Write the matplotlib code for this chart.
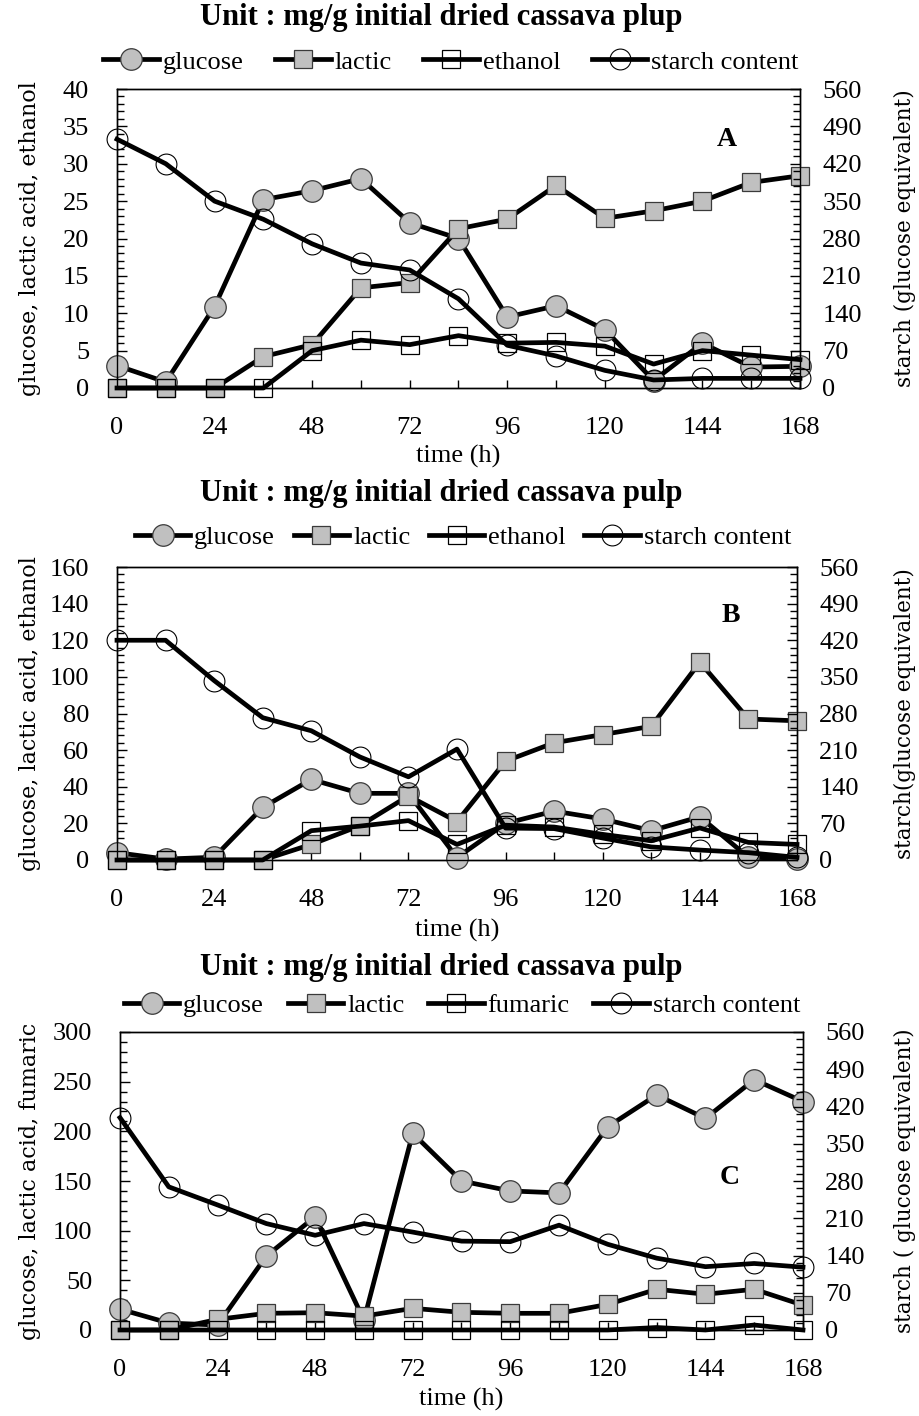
import matplotlib
matplotlib.use("Agg")
import matplotlib.pyplot as plt
from matplotlib.ticker import MultipleLocator
from matplotlib.lines import Line2D

plt.rcParams['font.family'] = ['Liberation Serif', 'DejaVu Serif']

time_h = [0, 12, 24, 36, 48, 60, 72, 84, 96, 108, 120, 132, 144, 156, 168]

# Panel A
glucose_A = [3.0, 0.8, 10.9, 25.2, 26.4, 28.0, 22.1, 20.0, 9.5, 11.0, 7.8, 1.0, 6.0, 2.8, 2.9]
lactic_A = [0, 0, 0, 4.2, 5.8, 13.4, 14.1, 21.3, 22.6, 27.1, 22.7, 23.7, 25.0, 27.5, 28.4]
ethanol_A = [0, 0, 0, 0, 5.0, 6.4, 5.8, 7.0, 6.0, 6.1, 5.6, 3.2, 5.0, 4.4, 3.8]
starch_A = [466, 420, 350, 316, 270, 234, 221, 167, 80, 60, 33, 15, 18, 18, 18]

# Panel B
glucose_B = [4.0, 0.5, 1.5, 28.7, 44.0, 36.4, 36.4, 1.3, 20.0, 26.7, 22.4, 16.0, 23.6, 1.5, 0.8]
lactic_B = [0, 0, 0, 0, 8.5, 18.7, 35.0, 21.0, 54.0, 64.0, 68.5, 73.0, 108.0, 77.0, 76.0]
ethanol_B = [0, 0, 0, 0, 16.0, 18.5, 21.5, 8.5, 19.0, 18.0, 14.0, 10.5, 17.5, 9.6, 8.5]
starch_B = [420, 420, 343, 272, 247, 197, 159, 212, 61, 60, 42, 25, 19, 14, 5]

# Panel C
glucose_C = [21.0, 7.0, 5.0, 74.5, 114.0, 10.0, 198.0, 150.0, 140.0, 138.0, 204.7, 236.6, 213.0, 252.0, 230.0]
lactic_C = [0, 0, 10.7, 16.8, 17.4, 14.0, 21.8, 17.8, 16.8, 16.8, 25.8, 41.0, 36.0, 41.0, 25.0]
fumaric_C = [0, 0, 0, 0, 0, 0, 0, 0, 0, 0, 0, 2.5, 0, 5.0, 0]
starch_C = [399, 269, 235, 200, 178, 200, 184, 167, 166, 197, 161, 135, 119, 125, 118]

W, H = 920, 1416
fig = plt.figure(figsize=(W / 100, H / 100), dpi=100)

TICK_FS = 19
LW = 3.4
GRAY = '#c0c0c0'
EDGE = '#3a3a3a'


def fx(px):
    return px / W


def fy(py):
    return 1 - py / H


def panel(box, y3, ymax, ystep, yminor, third_name, lab_left, lab_right,
          title, title_y, letter, letter_xy, leg_xy, colspace, xlabel_y):
    left, top, right, bottom = box
    ax = fig.add_axes([fx(left), fy(bottom), fx(right - left), (bottom - top) / H])
    ax2 = ax.twinx()
    glu, lac, thr, sta = y3
    common = dict(color='black', lw=LW, clip_on=False, zorder=3)
    ax.plot(time_h, glu, marker='o', ms=15.5, mfc=GRAY, mec=EDGE, mew=0.9, **common)
    ax.plot(time_h, lac, marker='s', ms=13.5, mfc=GRAY, mec=EDGE, mew=0.9, **common)
    ax.plot(time_h, thr, marker='s', ms=12.5, mfc='none', mec='black', mew=0.9, **common)
    ax2.plot(time_h, sta, marker='o', ms=15, mfc='none', mec='black', mew=0.8, **common)

    ax.set_xlim(0, 168)
    ax.set_ylim(0, ymax)
    ax2.set_ylim(0, 560)
    ax.xaxis.set_major_locator(MultipleLocator(24))
    ax.xaxis.set_minor_locator(MultipleLocator(12))
    ax.yaxis.set_major_locator(MultipleLocator(ystep))
    ax.yaxis.set_minor_locator(MultipleLocator(yminor))
    ax2.yaxis.set_major_locator(MultipleLocator(70))
    ax2.yaxis.set_minor_locator(MultipleLocator(14))

    ax.tick_params(axis='y', which='both', direction='in', left=True, right=False,
                   labelsize=TICK_FS, pad=20)
    ax.tick_params(axis='y', which='major', length=7, width=1)
    ax.tick_params(axis='y', which='minor', length=5, width=1)
    ax2.tick_params(axis='y', which='both', direction='in', right=True, left=False,
                    labelsize=TICK_FS, pad=16)
    ax2.tick_params(axis='y', which='major', length=7, width=1)
    ax2.tick_params(axis='y', which='minor', length=5, width=1)
    ax.tick_params(axis='x', which='both', direction='in', top=False, bottom=True,
                   labelsize=TICK_FS, pad=21, length=6, width=1)
    ax2.tick_params(axis='x', which='both', top=False, bottom=False)
    for a in (ax, ax2):
        for s in a.spines.values():
            s.set_linewidth(1.0)

    fig.text(fx((left + right) / 2), fy(xlabel_y), 'time (h)', ha='center', va='center',
             fontsize=TICK_FS)
    fig.text(fx(30), fy((top + bottom) / 2), lab_left, rotation=90, ha='center',
             va='center', fontsize=16, family=['DejaVu Serif'])
    fig.text(fx(905), fy((top + bottom) / 2), lab_right, rotation=90, ha='center',
             va='center', fontsize=15.5, family=['DejaVu Serif'])
    fig.text(fx(441), fy(title_y), title, ha='center', va='center', fontsize=22,
             fontweight='bold')
    fig.text(fx(letter_xy[0]), fy(letter_xy[1]), letter, ha='center', va='center',
             fontsize=20, fontweight='bold')

    handles = [
        Line2D([], [], color='black', lw=LW, marker='o', ms=15.5, mfc=GRAY, mec=EDGE, mew=0.9),
        Line2D([], [], color='black', lw=LW, marker='s', ms=13.5, mfc=GRAY, mec=EDGE, mew=0.9),
        Line2D([], [], color='black', lw=LW, marker='s', ms=12.5, mfc='none', mec='black', mew=0.9),
        Line2D([], [], color='black', lw=LW, marker='o', ms=15, mfc='none', mec='black', mew=0.8),
    ]
    fig.legend(handles, ['glucose', 'lactic', third_name, 'starch content'],
               loc='center', bbox_to_anchor=(fx(leg_xy[0]), fy(leg_xy[1])), ncol=4,
               frameon=False, fontsize=TICK_FS, handlelength=2.1, handletextpad=0.15,
               columnspacing=colspace, borderpad=0, borderaxespad=0)
    return ax, ax2


panel((117, 89, 800, 388), (glucose_A, lactic_A, ethanol_A, starch_A), 40, 5, 1,
      'ethanol', 'glucose, lactic acid, ethanol', 'starch (glucose equivalent)',
      'Unit : mg/g initial dried cassava plup', 18, 'A', (727, 140), (451, 62), 1.2,
      456)
panel((117, 567, 797, 860), (glucose_B, lactic_B, ethanol_B, starch_B), 160, 20, 4,
      'ethanol', 'glucose, lactic acid, ethanol', 'starch(glucose equivalent)',
      'Unit : mg/g initial dried cassava pulp', 494, 'B', (731, 615), (463, 537), 0.7,
      930)
panel((120, 1032, 803, 1330), (glucose_C, lactic_C, fumaric_C, starch_C), 300, 50, 10,
      'fumaric', 'glucose, lactic acid, fumaric', 'starch ( glucose equivalent)',
      'Unit : mg/g initial dried cassava pulp', 967, 'C', (730, 1177), (462, 1005), 0.9,
      1399)

fig.savefig('out.png', dpi=100)
